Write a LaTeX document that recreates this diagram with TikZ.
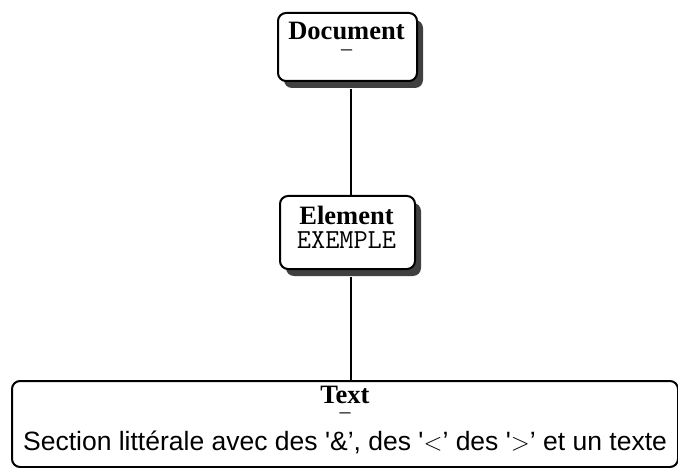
\documentclass[tikz,border=0pt]{standalone}
\usepackage{fontspec}
\setmainfont{Liberation Serif}
\newfontfamily\sansf{Liberation Sans}
\usetikzlibrary{shadows}
\begin{document}
\begin{tikzpicture}[x={(1pt,0pt)},y={(0pt,-1pt)},
  box/.style={draw, line width=2pt, rounded corners=8pt, fill=white, inner sep=0pt},
  shadowbox/.style={box, drop shadow={shadow xshift=6pt, shadow yshift=-7pt, opacity=1, fill=black!75}},
  ttl/.style={font=\fontsize{26.5}{26.5}\selectfont\bfseries, anchor=base, inner sep=0pt},
  dashtxt/.style={font=\fontsize{22}{22}\selectfont, anchor=center, inner sep=0pt},
  conn/.style={line width=2pt}]
\useasboundingbox (0,0) rectangle (678,468);
% boxes
\node[shadowbox, minimum width=139pt, minimum height=68pt, anchor=north west] (doc) at (277,12) {};
\node[shadowbox, minimum width=135pt, minimum height=73pt, anchor=north west] (elem) at (279,195) {};
\node[box, minimum width=666pt, minimum height=86pt, anchor=north west] (txt) at (11,380) {};
% connectors
\draw[conn] ([xshift=3.5pt,yshift=-7pt]doc.south) -- ([xshift=3.5pt]elem.north);
\draw[conn] ([xshift=3.5pt,yshift=-7pt]elem.south) -- ([xshift=3.5pt]elem.south |- txt.north);
% texts
\node[ttl] (doct) at (346.5,40) {Document};
\node[dashtxt] (docd) at (346.5,53) {–};
\node[ttl] (elemt) at (346.5,225) {Element};
\node[font=\fontsize{27.5}{27.5}\selectfont\ttfamily, anchor=base, inner sep=0pt] (elemv) at (346.5,248) {EXEMPLE};
\node[ttl] (txtt) at (345,403) {Text};
\node[dashtxt] (txtd) at (345,416) {–};
\node[font=\fontsize{26.5}{26.5}\selectfont\sansf, anchor=base, inner sep=0pt] (txtv) at (345,450) {Section littérale avec des '\&’, des '$<$’ des '$>$’ et un texte};
\end{tikzpicture}
\end{document}
